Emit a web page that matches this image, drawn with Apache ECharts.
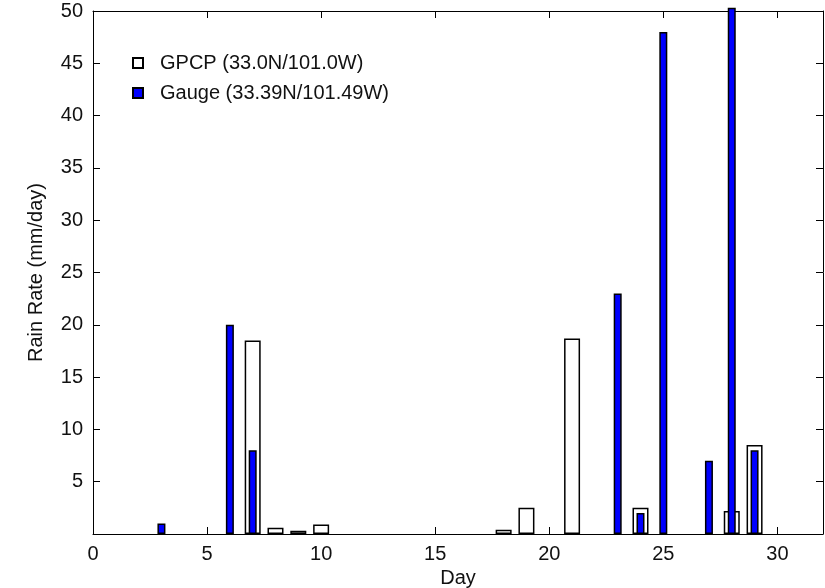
<!DOCTYPE html>
<html>
<head>
<meta charset="utf-8">
<script src="https://cdn.jsdelivr.net/npm/echarts@6/dist/echarts.min.js"></script>
<style>html,body{margin:0;padding:0;background:#fff}#c{width:825px;height:588px}</style>
</head>
<body>
<div id="c"></div>
<script>
var gpcpName = 'GPCP (33.0N/101.0W)';
var gaugeName = 'Gauge (33.39N/101.49W)';
var gpcpDays = [7, 8, 9, 10, 18, 19, 21, 24, 28, 29];
var gpcpVals = [18.5, 0.6, 0.3, 0.9, 0.4, 2.5, 18.7, 2.5, 2.2, 8.5];
var gaugeDays = [3, 6, 7, 23, 24, 25, 27, 28, 29];
var gaugeVals = [1, 20, 8, 23, 2, 48, 7, 50.3, 8];
var xTicks = [0, 5, 10, 15, 20, 25, 30];
var yTicks = [5, 10, 15, 20, 25, 30, 35, 40, 45, 50];

function pairs(xs, ys) { return xs.map(function (x, i) { return [x, ys[i]]; }); }

var font = 'Liberation Sans, Arial, sans-serif';
var fs = 20;
var chart = echarts.init(document.getElementById('c'), null, { renderer: 'canvas' });
var axisLine = { show: true, onZero: false, lineStyle: { color: '#000', width: 1 } };
chart.setOption({
  backgroundColor: '#fff',
  animation: false,
  grid: { left: 93, right: 2, top: 11, bottom: 54, containLabel: false, outerBoundsMode: 'none' },
  legend: {
    orient: 'vertical', left: 132, top: 53, padding: 0, itemWidth: 10, itemHeight: 10, itemGap: 10,
    icon: 'rect',
    textStyle: { fontFamily: font, fontSize: fs, color: '#111', lineHeight: 20, padding: [0, 0, 0, 12] },
    data: [gpcpName, gaugeName]
  },
  xAxis: [{
    type: 'value', min: 0, max: 32, interval: 5, position: 'bottom',
    name: 'Day', nameLocation: 'middle', nameGap: 32,
    nameTextStyle: { fontFamily: font, fontSize: fs, color: '#111' },
    axisLine: axisLine,
    axisTick: { show: true, inside: true, length: 7, lineStyle: { color: '#000' } },
    axisLabel: { fontFamily: font, fontSize: fs, color: '#111', margin: 10, showMaxLabel: false,
      formatter: function (v) { return xTicks.indexOf(v) >= 0 ? String(v) : ''; } },
    splitLine: { show: false }
  }, {
    type: 'value', min: 0, max: 32, interval: 5, position: 'top',
    axisLine: axisLine,
    axisTick: { show: true, inside: true, length: 7, lineStyle: { color: '#000' } },
    axisLabel: { show: false },
    splitLine: { show: false }
  }],
  yAxis: [{
    type: 'value', min: 0, max: 50, interval: 5, position: 'left',
    name: 'Rain Rate (mm/day)', nameLocation: 'middle', nameGap: 47,
    nameTextStyle: { fontFamily: font, fontSize: fs, color: '#111' },
    axisLine: axisLine,
    axisTick: { show: true, inside: true, length: 7, lineStyle: { color: '#000' } },
    axisLabel: { fontFamily: font, fontSize: fs, color: '#111', margin: 10, showMinLabel: false,
      formatter: function (v) { return yTicks.indexOf(v) >= 0 ? String(v) : ''; } },
    splitLine: { show: false }
  }, {
    type: 'value', min: 0, max: 50, interval: 5, position: 'right',
    axisLine: axisLine,
    axisTick: { show: true, inside: true, length: 7, lineStyle: { color: '#000' } },
    axisLabel: { show: false },
    splitLine: { show: false }
  }],
  series: [{
    name: gpcpName, type: 'bar', xAxisIndex: 0, yAxisIndex: 0, barWidth: 16,
    itemStyle: { color: '#fff', borderColor: '#000', borderWidth: 1.5 },
    data: pairs(gpcpDays, gpcpVals), z: 2
  }, {
    name: gaugeName, type: 'bar', xAxisIndex: 1, yAxisIndex: 0, barWidth: 8, clip: false,
    itemStyle: { color: '#0000ff', borderColor: '#000', borderWidth: 1.5 },
    data: pairs(gaugeDays, gaugeVals), z: 3
  }]
});
</script>
</body>
</html>
